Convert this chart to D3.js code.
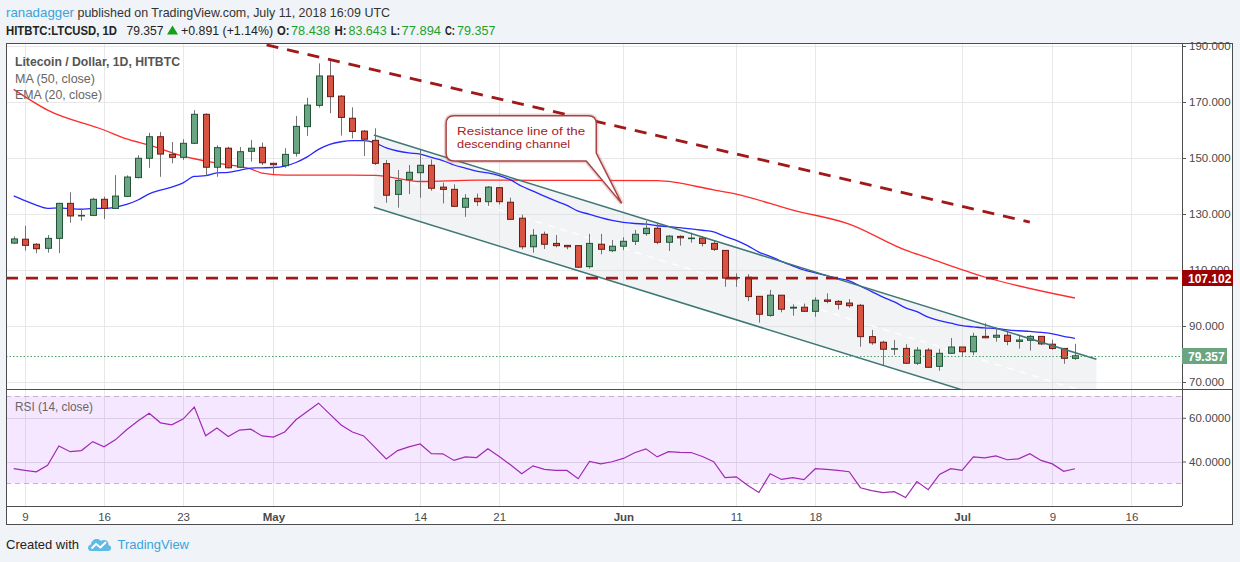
<!DOCTYPE html>
<html><head><meta charset="utf-8">
<script src="https://cdn.jsdelivr.net/npm/d3@7"></script>
<style>
html,body{margin:0;padding:0;background:#f0f3f7;}
svg{display:block;font-family:"Liberation Sans",Arial,sans-serif;}
</style></head><body>
<svg id="c" width="1240" height="562"></svg>
<script>
// ---------------- DATA ----------------
const startDate = "2018-04-08";   // first candle, daily candles follow
const opens  = [119.6,121.0,119.2,117.75,121.3,133.8,129.3,129.5,135.25,132.0,
  136.3,143.0,149.9,157.6,151.3,150.25,155.25,165.6,146.7,153.5,
  146.7,152.4,153.8,148.1,147.25,151.7,161.2,168.8,179.3,172.1,
  164.2,159.6,156.3,148.0,137.0,142.25,144.75,147.4,139.6,138.8,
  132.4,135.6,134.4,139.4,134.2,128.5,118.3,122.75,119.5,118.8,
  118.7,111.2,119.2,116.9,118.5,120.25,123.0,124.9,119.9,122.0,
  121.2,121.4,119.5,117.0,107.2,107.4,100.6,93.8,101.0,96.4,
  96.7,95.25,99.3,98.8,98.2,97.4,86.2,84.2,81.8,82.0,
  76.7,81.4,75.6,80.25,82.5,80.8,86.3,86.0,86.7,84.5,
  84.9,86.3,83.5,82.0,78.438];
const highs  = [122.0,125.8,119.6,122.5,134.0,137.75,131.9,135.8,136.2,143.9,
  143.8,151.0,159.0,159.3,155.7,156.7,167.1,166.0,154.5,154.0,
  153.9,156.4,155.5,148.3,153.5,165.0,171.5,183.8,184.6,172.5,
  168.1,160.0,160.6,149.3,145.7,147.5,152.9,149.5,141.2,140.6,
  137.1,137.3,140.0,139.6,135.8,129.75,124.6,123.7,122.5,118.9,
  118.8,122.9,122.9,120.7,121.7,124.3,127.5,126.9,122.5,122.4,
  123.3,122.1,120.6,117.1,108.8,108.5,100.7,102.9,101.0,97.75,
  98.0,100.25,101.7,99.3,99.6,97.9,88.6,84.75,85.0,83.5,
  82.5,82.1,81.8,85.7,82.5,87.6,91.0,89.5,88.3,86.8,
  86.8,86.3,85.1,82.0,83.643];
const lows   = [119.3,116.9,116.0,116.2,116.0,126.9,127.6,129.4,128.2,131.9,
  136.1,142.75,146.5,143.3,148.1,149.3,155.0,143.7,143.3,146.3,
  146.4,148.7,147.5,144.2,146.5,150.5,157.9,168.0,166.0,158.0,
  157.0,150.7,147.5,134.0,132.25,137.1,135.8,138.3,133.8,132.6,
  129.0,132.9,132.9,133.4,127.9,117.4,116.2,117.5,118.1,117.4,
  110.7,110.5,115.6,116.4,117.1,118.9,122.25,119.2,116.8,118.7,
  119.75,118.4,116.8,104.0,104.0,98.9,91.2,93.3,94.9,93.7,
  95.0,93.3,98.1,95.9,96.5,82.6,83.3,75.8,79.6,76.5,
  76.1,75.0,74.0,80.0,79.0,79.6,85.6,84.4,83.1,81.9,
  81.2,83.2,81.5,76.5,77.894];
const closes = [121.1,118.8,117.6,121.3,133.8,129.3,129.5,135.25,132.0,136.4,
  143.2,149.9,157.6,151.4,150.25,155.25,165.6,146.7,153.7,146.5,
  152.25,153.5,148.3,147.6,151.3,161.3,168.9,179.3,171.9,164.5,
  159.5,156.7,148.1,136.7,142.0,144.9,147.4,139.2,138.8,132.75,
  135.6,134.4,139.6,134.4,128.1,118.3,122.4,119.2,118.7,118.3,
  111.0,119.5,117.4,118.5,120.25,122.75,124.9,119.9,122.1,121.5,
  121.4,119.5,117.4,107.1,107.3,100.5,94.2,101.0,96.0,96.7,
  95.25,99.2,98.8,97.75,97.25,86.2,84.0,81.7,81.9,76.7,
  81.4,75.25,80.25,82.5,80.8,86.3,85.8,86.7,84.5,85.0,
  86.3,83.6,82.0,78.466,79.357];
// EMA (20, close), one value per candle
const emaValues = [136.5,134.8,133.2,132.0,132.2,131.9,131.7,132.0,132.0,132.4,
  133.4,135.0,137.2,138.5,139.6,141.1,143.4,143.7,144.7,144.9,
  145.6,146.4,146.5,146.6,147.1,148.4,150.4,153.1,154.9,155.8,
  156.2,156.2,155.4,153.6,152.5,151.8,151.4,150.2,149.1,147.5,
  146.4,145.3,144.7,143.7,142.2,139.9,138.2,136.4,134.7,133.1,
  131.0,129.9,128.7,127.7,127.0,126.6,126.4,125.8,125.5,125.1,
  124.7,124.2,123.6,122.0,120.6,118.7,116.4,114.9,113.1,111.5,
  110.0,109.0,108.0,107.0,106.1,104.2,102.3,100.3,98.6,96.5,
  95.1,93.2,91.9,91.0,90.1,89.7,89.3,89.1,88.6,88.3,
  88.1,87.7,87.2,86.3,85.6];
// MA (50, close), read at these candle indices
const maIndex  = [0,3,8,10,12,15,18,21,22,24,28,32,36,41,49,57,62,64,69,74,79,81,86,94];
const maValues = [174.5,167.1,160,156.8,154.6,150.7,148.2,146.1,144.6,143.9,143.9,143.8,141.6,142.1,142.0,141.9,138.6,137.1,131.4,126.4,117.1,114.3,107.5,100.0];
// RSI (14, close)
const rsiValues = [36.7,35.9,35.3,38.3,47.1,44.5,45.0,49.1,46.7,49.9,
  54.5,58.5,62.1,57.7,56.8,59.4,64.9,51.8,55.3,51.4,
  54.4,54.8,51.7,51.2,53.5,59.1,62.9,66.7,61.7,56.7,
  53.5,51.7,46.5,41.2,45.0,46.7,48.0,43.6,43.5,40.5,
  42.1,41.8,45.8,42.3,38.5,34.4,38.0,36.4,35.9,35.9,
  32.1,40.0,38.9,39.9,41.4,44.0,45.8,42.1,44.5,44.2,
  44.1,42.3,39.9,32.6,33.0,29.1,25.8,34.4,31.8,32.6,
  31.7,36.7,36.4,35.9,35.3,28.0,26.7,25.8,26.2,23.5,
  30.8,27.1,34.1,36.7,35.9,42.1,41.7,42.6,40.8,41.2,
  43.6,40.5,38.9,35.5,36.7];
const priceTicks = [70,90,110,130,150,170,190];
const rsiTicks = [40,60];
const rsiBands = [70,30];
const timeTickDates = ["2018-04-09","2018-04-16","2018-04-23","2018-05-01","2018-05-14","2018-05-21","2018-06-01","2018-06-11","2018-06-18","2018-07-01","2018-07-09","2018-07-16"];
const timeTickLabels = ["9","16","23","May","14","21","Jun","11","18","Jul","9","16"];
const resistanceLevel = 107.102;
const lastPrice = 79.357;
// drawings, in (candle index, price)
const trendLine = [[22.4,190.4],[90.0,127.1]];
const channelUpper = [[31.9,158.2],[95.9,78.1]];
const channelLower = [[31.9,132.4],[95.9,52.3]];
const calloutBox = {i0:38.3, i1:51.6, pTop:165.1, pBottom:148.9, tipI:53.85, tipP:133.8};
const calloutLines = ["Resistance line of the","descending channel"];

// ---------------- LAYOUT ----------------
const W=1240,H=562;
const L=6,T=43,R=1182,RR=1233,MB=389,RB=506,B=525;
const svg=d3.select("#c");
const parse=d3.utcParse("%Y-%m-%d");
const d0=parse(startDate);
const DAY=86400000;
const x=d3.scaleUtc().domain([parse("2018-04-09"),parse("2018-07-16")]).range([25,1131.4]);
const xi=i=>x(new Date(d0.getTime()+i*DAY));
const y=d3.scaleLinear().domain([70,190]).range([382,46]);
const yr=d3.scaleLinear().domain([40,60]).range([461.5,417.8]);
const tickDates=timeTickDates.map(parse);

const defs=svg.append("defs");
defs.append("clipPath").attr("id","mainClip").append("rect").attr("x",L).attr("y",T).attr("width",R-L).attr("height",MB-T);
defs.append("clipPath").attr("id","rsiClip").append("rect").attr("x",L).attr("y",MB).attr("width",R-L).attr("height",RB-MB);

svg.append("rect").attr("width",W).attr("height",H).attr("fill","#f0f3f7");
svg.append("rect").attr("x",L).attr("y",T).attr("width",RR-L).attr("height",B-T).attr("fill","#ffffff");

function seg(str,x0,x1,yb,color,weight,size){
  return svg.append("text").attr("x",x0).attr("y",yb).attr("textLength",x1-x0).attr("lengthAdjust","spacingAndGlyphs")
    .attr("fill",color).attr("font-size",size||13).attr("font-weight",weight||"normal").text(str);
}
// one text element per header line, pieces as tspans
function line(parts,yb){
  const t=svg.append("text").attr("y",yb).attr("font-size",13);
  parts.forEach(p=>t.append("tspan").attr("x",p[1]).attr("textLength",p[2]-p[1]).attr("lengthAdjust","spacingAndGlyphs")
    .attr("fill",p[3]).attr("font-weight",p[4]||"normal").text(p[0]));
}
line([["ranadagger",6,74,"#3aa3dc"],["published on TradingView.com, July 11, 2018 16:09 UTC",77.5,390,"#333"]],17);
line([["HITBTC:LTCUSD, 1D",6,117,"#222","bold"],["79.357",126.5,163.5,"#222"],["+0.891 (+1.14%)",181,273,"#222"],
  ["O:",277,289.5,"#222","bold"],["78.438",291,330,"#22a12d"],["H:",334.5,346.5,"#222","bold"],["83.643",348.5,386.7,"#22a12d"],
  ["L:",390.7,400,"#222","bold"],["77.894",401.5,441,"#22a12d"],["C:",445,455,"#222","bold"],["79.357",457,495.4,"#22a12d"]],35);
svg.append("path").attr("d","M167,34.5 L172.5,25.5 L178,34.5 Z").attr("fill","#15a015");

// ---- grid ----
const grid=svg.append("g").attr("stroke","#e8e8e8").attr("stroke-width",1);
grid.selectAll("line.v").data(tickDates).join("line")
  .attr("x1",d=>Math.round(x(d))+0.5).attr("x2",d=>Math.round(x(d))+0.5).attr("y1",T).attr("y2",RB);
grid.selectAll("line.h").data(priceTicks).join("line")
  .attr("x1",L).attr("x2",R).attr("y1",d=>Math.round(y(d))+0.5).attr("y2",d=>Math.round(y(d))+0.5);

// ---- main pane ----
const main=svg.append("g").attr("clip-path","url(#mainClip)");
const cu=channelUpper.map(p=>[xi(p[0]),y(p[1])]);
const cl=channelLower.map(p=>[xi(p[0]),y(p[1])]);
main.append("path").attr("d",d3.line()([cu[0],cu[1],cl[1],cl[0]])+"Z")
  .attr("fill","rgba(205,211,219,0.28)");
main.append("path").attr("d",d3.line()([[cu[0][0],(cu[0][1]+cl[0][1])/2],[cu[1][0],(cu[1][1]+cl[1][1])/2]]))
  .attr("stroke","#ffffff").attr("stroke-width",1.5).attr("stroke-dasharray","7,6").attr("opacity",0.9);

main.append("path").datum(maIndex.map((d,k)=>[xi(d),y(maValues[k])]))
  .attr("d",d3.line().curve(d3.curveMonotoneX)).attr("fill","none").attr("stroke","#ff2a2a").attr("stroke-width",1.3);
main.append("path").datum(emaValues)
  .attr("d",d3.line().x((d,i)=>xi(i)).y(d=>y(d)).curve(d3.curveMonotoneX)).attr("fill","none").attr("stroke","#2828ff").attr("stroke-width",1.3);

const candles=closes.map((c,i)=>({i,o:opens[i],h:highs[i],l:lows[i],c}));
const cg=main.append("g");
cg.selectAll("line.w").data(candles).join("line")
  .attr("x1",d=>Math.round(xi(d.i))+0.5).attr("x2",d=>Math.round(xi(d.i))+0.5)
  .attr("y1",d=>y(d.h)).attr("y2",d=>y(d.l)).attr("stroke","#737375").attr("stroke-width",1);
cg.selectAll("rect").data(candles).join("rect")
  .attr("x",d=>Math.round(xi(d.i))-2.5).attr("width",6)
  .attr("y",d=>y(Math.max(d.o,d.c))).attr("height",d=>Math.max(0.5,Math.abs(y(d.o)-y(d.c))))
  .attr("fill",d=>d.c>=d.o?"#6ba583":"#d75442").attr("stroke",d=>d.c>=d.o?"#225437":"#6b1a14").attr("stroke-width",1);

[cu,cl].forEach(pts=>main.append("path").attr("d",d3.line()(pts)).attr("stroke","#3e7775").attr("stroke-width",1.5).attr("fill","none"));
main.append("line").attr("x1",L).attr("x2",R).attr("y1",y(resistanceLevel)).attr("y2",y(resistanceLevel))
  .attr("stroke","#a01818").attr("stroke-width",2.8).attr("stroke-dasharray","12,8");
main.append("path").attr("d",d3.line()(trendLine.map(p=>[xi(p[0]),y(p[1])])))
  .attr("stroke","#a01818").attr("stroke-width",2.8).attr("stroke-dasharray","12,9").attr("fill","none");
main.append("line").attr("x1",L).attr("x2",R).attr("y1",Math.round(y(lastPrice))+0.5).attr("y2",Math.round(y(lastPrice))+0.5)
  .attr("stroke","#4f9d6d").attr("stroke-width",1).attr("stroke-dasharray","1.5,2");

// callout
const bx0=xi(calloutBox.i0),bx1=xi(calloutBox.i1),by0=y(calloutBox.pTop),by1=y(calloutBox.pBottom);
const tx=xi(calloutBox.tipI),ty=y(calloutBox.tipP),r=8;
const cp=d3.path();
cp.moveTo(bx0+r,by0);cp.lineTo(bx1-r,by0);cp.quadraticCurveTo(bx1,by0,bx1,by0+r);
cp.lineTo(bx1,by1-8);cp.lineTo(tx,ty);cp.lineTo(bx1-10,by1);
cp.lineTo(bx0+r,by1);cp.quadraticCurveTo(bx0,by1,bx0,by1-r);cp.lineTo(bx0,by0+r);cp.quadraticCurveTo(bx0,by0,bx0+r,by0);cp.closePath();
main.append("path").attr("d",cp.toString()).attr("fill","none").attr("stroke","rgba(170,60,60,0.22)").attr("stroke-width",4.5);
main.append("path").attr("d",cp.toString()).attr("fill","#ffffff").attr("stroke","#a84444").attr("stroke-width",1.5);
main.selectAll("text.co").data(calloutLines).join("text")
  .attr("x",bx0+11).attr("y",(d,k)=>by0+19.5+k*12.5).attr("fill","#a3221f").attr("font-size",11.5)
  .attr("textLength",(d,k)=>k===0?128:113).attr("lengthAdjust","spacingAndGlyphs").text(d=>d);

// legend
seg("Litecoin / Dollar, 1D, HITBTC",15,180,65.5,"#555","bold");
seg("MA (50, close)",15,95,82.5,"#666");
seg("EMA (20, close)",15,102,99,"#666");

// ---- RSI pane ----
const rg=svg.append("g").attr("clip-path","url(#rsiClip)");
rg.selectAll("line.rh").data(rsiTicks).join("line").attr("x1",L).attr("x2",R)
  .attr("y1",d=>Math.round(yr(d))+0.5).attr("y2",d=>Math.round(yr(d))+0.5).attr("stroke","#e2e2e2");
rg.append("rect").attr("x",L).attr("width",R-L).attr("y",yr(rsiBands[0])).attr("height",yr(rsiBands[1])-yr(rsiBands[0]))
  .attr("fill","rgba(153,21,255,0.1)");
rg.selectAll("line.band").data(rsiBands).join("line").attr("x1",L).attr("x2",R)
  .attr("y1",d=>Math.round(yr(d))+0.5).attr("y2",d=>Math.round(yr(d))+0.5)
  .attr("stroke","#c2b5ca").attr("stroke-dasharray","5,4");
rg.append("path").datum(rsiValues).attr("d",d3.line().x((d,i)=>xi(i)).y(d=>yr(d)))
  .attr("fill","none").attr("stroke","#a02ab4").attr("stroke-width",1.2);
seg("RSI (14, close)",15,93,411,"#666");

// ---- axes ----
const ax=svg.append("g").attr("transform",`translate(${R},0)`)
  .call(d3.axisRight(y).tickValues(priceTicks).tickFormat(d3.format(".3f")).tickSize(4).tickPadding(3));
const ax2=svg.append("g").attr("transform",`translate(${R},0)`)
  .call(d3.axisRight(yr).tickValues(rsiTicks).tickFormat(d3.format(".4f")).tickSize(4).tickPadding(3));
const ax3=svg.append("g").attr("transform",`translate(0,${RB})`)
  .call(d3.axisBottom(x).tickValues(tickDates).tickFormat((d,k)=>timeTickLabels[k]).tickSize(0).tickPadding(7));
[ax,ax2,ax3].forEach(a=>{a.select(".domain").remove();
  a.selectAll("text").attr("font-size",11.5).attr("fill","#4a4a4a").attr("font-family","Liberation Sans, Arial, sans-serif");
  a.selectAll("line").attr("stroke","#555");});
ax3.selectAll("text").attr("font-weight",(d,k)=>/[A-Z]/.test(timeTickLabels[k])?"bold":"normal");

// ---- frame ----
const fr=svg.append("g").attr("stroke","#4d4d4d").attr("stroke-width",1).attr("fill","none");
fr.append("rect").attr("x",L+0.5).attr("y",T+0.5).attr("width",RR-L-1).attr("height",B-T-1);
fr.append("line").attr("x1",L).attr("x2",RR).attr("y1",MB+0.5).attr("y2",MB+0.5);
fr.append("line").attr("x1",L).attr("x2",R).attr("y1",RB+0.5).attr("y2",RB+0.5);
fr.append("line").attr("x1",R+0.5).attr("x2",R+0.5).attr("y1",T).attr("y2",RB);

// ---- price labels ----
function priceTag(v,w,bg){
  const yy=y(v);
  svg.append("rect").attr("x",R).attr("y",Math.round(yy)-8).attr("width",w).attr("height",16).attr("fill",bg);
  svg.append("text").attr("x",R+6).attr("y",Math.round(yy)+4.5).attr("fill","#fff").attr("font-size",12)
    .attr("font-weight","bold").text(d3.format(".3f")(v));
}
priceTag(resistanceLevel,51,"#9c0000");
priceTag(lastPrice,45,"#6aa57f");

// ---- footer ----
seg("Created with",6,79,549,"#222");
const logo=svg.append("g").attr("transform","translate(87,536)");
logo.append("path").attr("d","M4,15 C0,15 0,9 4,8.5 C4.5,3 11,1.5 14,5 C17,2.5 22,4.5 21.5,9 C25,9.5 25,15 21,15 Z").attr("fill","#5ebbe8");
logo.append("path").attr("d","M4.5,12.5 L9,8 L13.5,11.5 L19,6").attr("fill","none").attr("stroke","#ffffff").attr("stroke-width",2);
seg("TradingView",117.5,189,549,"#3aa3dc");
</script>
</body></html>
